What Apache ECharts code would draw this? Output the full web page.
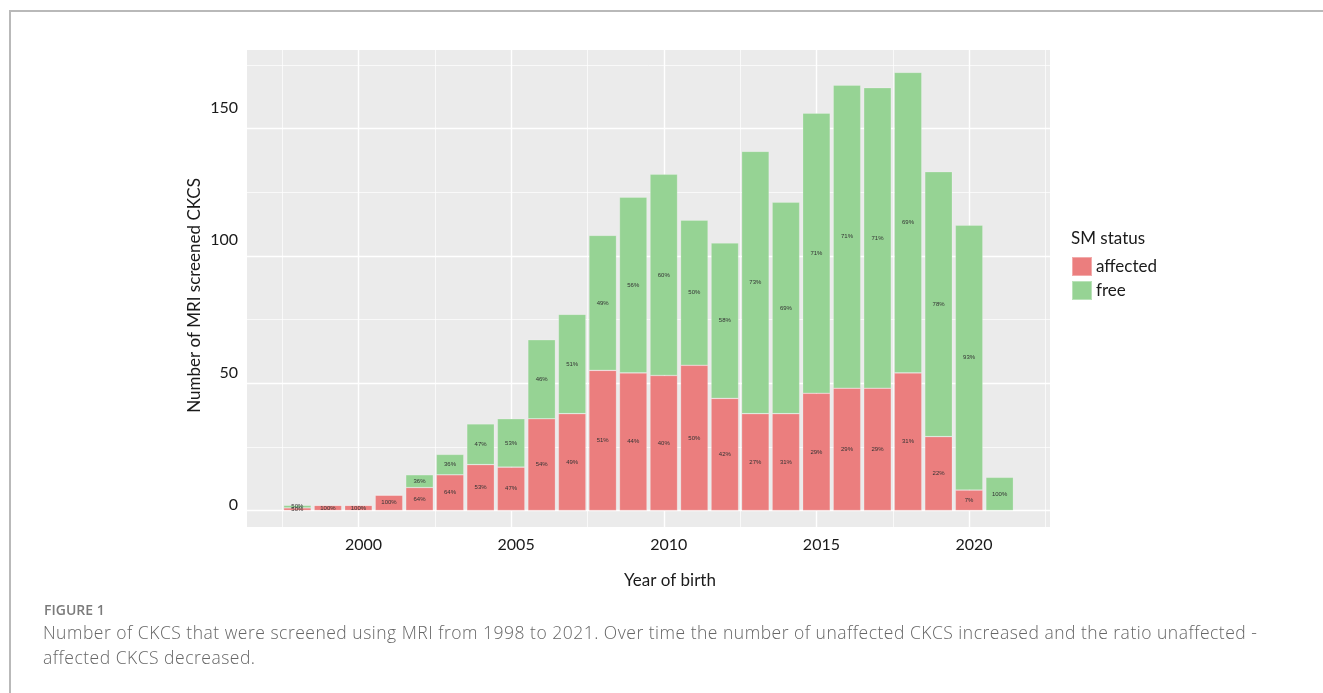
<!DOCTYPE html>
<html>
<head>
<meta charset="utf-8">
<script src="https://cdn.jsdelivr.net/npm/echarts@6/dist/echarts.min.js"></script>
<style>
  html, body { margin: 0; padding: 0; background: #ffffff; width: 1323px; height: 693px; overflow: hidden; }
  #frame { position: absolute; left: 9px; top: 10px; right: -5px; bottom: -5px;
           border-top: 2px solid #b9b9b9; border-left: 2px solid #b9b9b9; }
  #chart { position: absolute; left: 0; top: 0; width: 1323px; height: 693px; }
  #figlabel { position: absolute; left: 44px; top: 600px; font-family: "Open Sans", sans-serif;
              font-weight: 600; font-size: 14px; color: #7b7b7b; letter-spacing: 0px; }
  #caption { position: absolute; left: 43px; top: 620px; width: 1275px; font-family: "Open Sans", sans-serif;
             font-weight: 300; font-size: 17.5px; line-height: 25px; color: #666666; letter-spacing: 0.5px; white-space: nowrap; }
</style>
</head>
<body>
<div id="frame"></div>
<div id="chart"></div>
<div id="figlabel">FIGURE 1</div>
<div id="caption">Number of CKCS that were screened using MRI from 1998 to 2021. Over time the number of unaffected CKCS increased and the ratio unaffected -<br>affected CKCS decreased.</div>
<script>
// ---- data ----
const years    = [1998, 1999, 2000, 2001, 2002, 2003, 2004, 2005, 2006, 2007, 2008, 2009,
                  2010, 2011, 2012, 2013, 2014, 2015, 2016, 2017, 2018, 2019, 2020, 2021];
const affected = [1, 2, 2, 6, 9, 14, 18, 17, 36, 38, 55, 54,
                  53, 57, 44, 38, 38, 46, 48, 48, 54, 29, 8, 0];
const free     = [1, 0, 0, 0, 5, 8, 16, 19, 31, 39, 53, 69,
                  79, 57, 61, 103, 83, 110, 119, 118, 118, 104, 104, 13];
const xTickLabels = [2000, 2005, 2010, 2015, 2020];
const xMinorBreaks = [1997.5, 2002.5, 2007.5, 2012.5, 2017.5, 2022.5];
const yTickLabels = [0, 50, 100, 150];
const yMinorBreaks = [25, 75, 125, 175];
const seriesNames = ['affected', 'free'];

const totals = years.map((y, i) => affected[i] + free[i]);
// value first, year second, so the count is the stacked dimension
const toPairs = arr => years.map((y, i) => [arr[i], y]);

const pctLabel = function (p) {
  const i = p.dataIndex;
  const v = p.value[0];
  if (!v) return '';
  return Math.round(v / totals[i] * 100) + '%';
};

const chart = echarts.init(document.getElementById('chart'), null, { renderer: 'canvas' });
const FONT = 'Lato, "Open Sans", sans-serif';
const labelStyle = { show: true, position: 'inside', formatter: pctLabel,
                     fontSize: 6, color: '#333', fontFamily: 'Liberation Sans, Arial, sans-serif' };

chart.setOption({
  animation: false,
  title: {
    text: 'SM status', left: 1066, top: 225,
    textStyle: { fontFamily: FONT, fontSize: 17, fontWeight: 'normal', color: '#1a1a1a' }
  },
  legend: {
    orient: 'vertical', left: 1066, top: 251, itemWidth: 20, itemHeight: 19, itemGap: 3,
    icon: 'rect', data: seriesNames,
    textStyle: { fontFamily: FONT, fontSize: 17, color: '#1a1a1a', padding: [0, 0, 0, -1] }
  },
  grid: { left: 247, top: 50, width: 803, height: 477, backgroundColor: '#EBEBEB', show: true, borderWidth: 0 },
  xAxis: [
    {
      type: 'value', min: 1996.35, max: 2022.65, position: 'bottom',
      axisLine: { show: false }, axisTick: { show: false, customValues: xTickLabels },
      axisLabel: { customValues: xTickLabels, fontFamily: FONT, fontSize: 16, color: '#1a1a1a', margin: 10,
                   padding: [0, 0, 0, 10], formatter: v => String(v) },
      splitLine: { show: true, lineStyle: { color: '#ffffff', width: 1.4 } },
      name: 'Year of birth', nameLocation: 'middle', nameGap: 45,
      nameTextStyle: { fontFamily: FONT, fontSize: 17, color: '#1a1a1a', padding: [0, 0, 0, 43] }
    },
    {
      type: 'value', min: 1996.35, max: 2022.65, position: 'top',
      axisLine: { show: false }, axisTick: { show: false, customValues: xMinorBreaks },
      axisLabel: { show: false },
      splitLine: { show: true, lineStyle: { color: '#ffffff', width: 0.7 } }
    }
  ],
  yAxis: [
    {
      type: 'value', min: -6.5, max: 180.8, position: 'left',
      axisLine: { show: false }, axisTick: { show: false, customValues: yTickLabels },
      axisLabel: { show: false },
      splitLine: { show: true, lineStyle: { color: '#ffffff', width: 1.4 } },
      name: 'Number of MRI screened CKCS', nameLocation: 'middle', nameGap: 44,
      nameTextStyle: { fontFamily: FONT, fontSize: 17, color: '#1a1a1a', padding: [0, 14, 0, 0] }
    },
    {
      type: 'value', min: -6.5, max: 180.8, position: 'left',
      axisLine: { show: false }, axisTick: { show: false, customValues: yMinorBreaks },
      axisLabel: { show: false },
      splitLine: { show: true, lineStyle: { color: '#ffffff', width: 0.7 } }
    },
    {
      type: 'value', min: -8.31, max: 171.9, position: 'left',
      axisLine: { show: false }, axisTick: { show: false, customValues: yTickLabels },
      axisLabel: { customValues: yTickLabels, fontFamily: FONT, fontSize: 16, color: '#1a1a1a', margin: 9 },
      splitLine: { show: false }
    }
  ],
  series: [
    {
      name: seriesNames[0], type: 'bar', stack: 'sm', xAxisIndex: 0, yAxisIndex: 0,
      data: toPairs(affected), encode: { x: 1, y: 0 }, barCategoryGap: '10%',
      itemStyle: { color: '#EB7E7E', borderColor: 'rgba(255,255,255,0.35)', borderWidth: 0.6 },
      label: labelStyle
    },
    {
      name: seriesNames[1], type: 'bar', stack: 'sm', xAxisIndex: 0, yAxisIndex: 0,
      data: toPairs(free), encode: { x: 1, y: 0 }, barCategoryGap: '10%',
      itemStyle: { color: '#96D394', borderColor: 'rgba(255,255,255,0.35)', borderWidth: 0.6 },
      label: labelStyle
    }
  ]
});
</script>
</body>
</html>
